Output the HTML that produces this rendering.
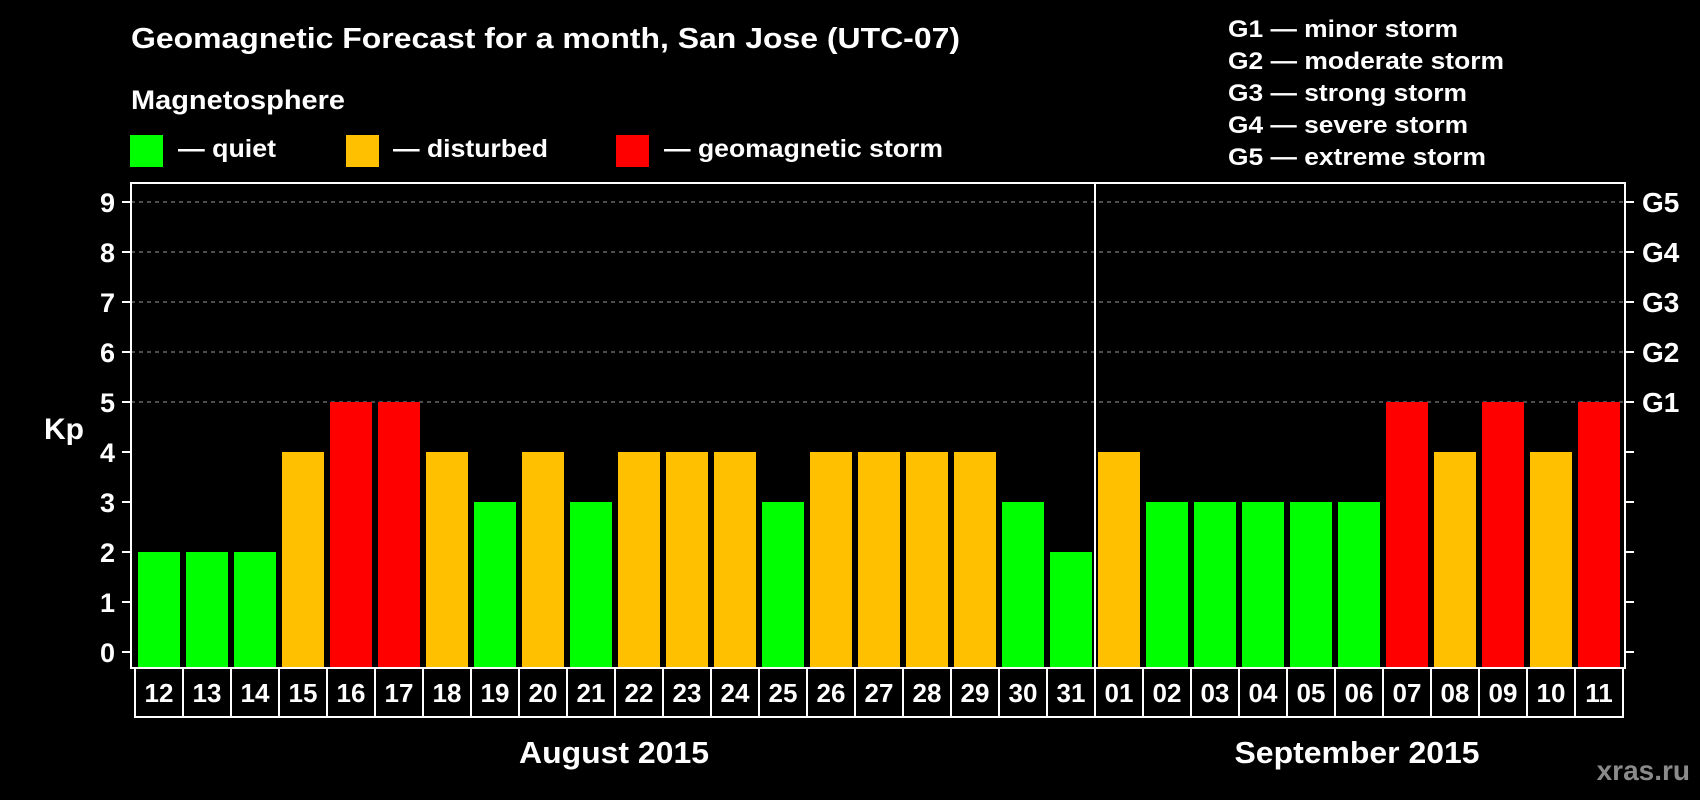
<!DOCTYPE html>
<html><head><meta charset="utf-8"><style>
html,body{margin:0;padding:0;background:#000;}
svg{display:block;font-family:"Liberation Sans",Arial,sans-serif;font-weight:bold;}
</style></head><body>
<svg id="chart" width="1700" height="800" viewBox="0 0 1700 800">
<rect x="0" y="0" width="1700" height="800" fill="#000"/>
<text x="131" y="48" fill="#fff" font-size="29" textLength="829" lengthAdjust="spacingAndGlyphs">Geomagnetic Forecast for a month, San Jose (UTC-07)</text>
<text x="131" y="109" fill="#fff" font-size="27" textLength="214" lengthAdjust="spacingAndGlyphs">Magnetosphere</text>
<rect x="130" y="135" width="33" height="32" fill="#00ff00"/>
<text x="178" y="157" fill="#fff" font-size="25" textLength="98" lengthAdjust="spacingAndGlyphs">— quiet</text>
<rect x="346" y="135" width="33" height="32" fill="#ffc000"/>
<text x="393" y="157" fill="#fff" font-size="25" textLength="155" lengthAdjust="spacingAndGlyphs">— disturbed</text>
<rect x="616" y="135" width="33" height="32" fill="#ff0000"/>
<text x="664" y="157" fill="#fff" font-size="25" textLength="279" lengthAdjust="spacingAndGlyphs">— geomagnetic storm</text>
<g fill="#fff" font-size="24">
<text x="1228" y="37" textLength="230" lengthAdjust="spacingAndGlyphs">G1 — minor storm</text>
<text x="1228" y="69" textLength="276" lengthAdjust="spacingAndGlyphs">G2 — moderate storm</text>
<text x="1228" y="101" textLength="239" lengthAdjust="spacingAndGlyphs">G3 — strong storm</text>
<text x="1228" y="133" textLength="240" lengthAdjust="spacingAndGlyphs">G4 — severe storm</text>
<text x="1228" y="165" textLength="258" lengthAdjust="spacingAndGlyphs">G5 — extreme storm</text>
</g>
<text x="64" y="439" fill="#fff" font-size="30" text-anchor="middle">Kp</text>
<g id="grid"></g><g id="bars"></g><g id="axes"></g><g id="days"></g>
<text x="614" y="763" fill="#fff" font-size="31" text-anchor="middle" textLength="190" lengthAdjust="spacingAndGlyphs">August 2015</text>
<text x="1357" y="763" fill="#fff" font-size="31" text-anchor="middle" textLength="245" lengthAdjust="spacingAndGlyphs">September 2015</text>
<text x="1690" y="780" fill="#8a8a8a" font-size="28" text-anchor="end">xras.ru</text>
</svg>
<script>
const days = ["12","13","14","15","16","17","18","19","20","21","22","23","24","25","26","27","28","29","30","31","01","02","03","04","05","06","07","08","09","10","11"];
const kpValues = [2,2,2,4,5,5,4,3,4,3,4,4,4,3,4,4,4,4,3,2,4,3,3,3,3,3,5,4,5,4,5];
const yTicks = [0,1,2,3,4,5,6,7,8,9];
const gLabels = ["G1","G2","G3","G4","G5"];
const gLevels = [5,6,7,8,9];

const NS = "http://www.w3.org/2000/svg";
const L = 131, R = 1625, T = 183, B = 668;
function y(v){ return 652 - v * 50; }
function slotX(i){ return 135 + i * 48; }
function colorFor(v){ return v >= 5 ? "#ff0000" : (v >= 4 ? "#ffc000" : "#00ff00"); }
function mk(tag, attrs, parent){ const e = document.createElementNS(NS, tag); for (const k in attrs) e.setAttribute(k, attrs[k]); parent.appendChild(e); return e; }

const grid = document.getElementById("grid"), bars = document.getElementById("bars"), axes = document.getElementById("axes"), dg = document.getElementById("days");

gLevels.forEach((lv) => {
  const ln = mk("line", {x1: L, x2: R, y1: y(lv), y2: y(lv), stroke: "#999", "stroke-width": 1, "stroke-dasharray": "4,4"}, grid);
  
  
});

kpValues.forEach((v, i) => {
  const x0 = slotX(i) + 3;
  const r = mk("rect", {x: x0, y: y(v), width: 42, height: B - y(v), fill: colorFor(v)}, bars);
  
  
});

const frame = mk("rect", {x: L, y: T, width: R - L, height: B - T, fill: "none", stroke: "#fff", "stroke-width": 2}, axes);


const sepIdx = days.indexOf("01");
const sep = mk("line", {x1: slotX(sepIdx), x2: slotX(sepIdx), y1: T, y2: B, stroke: "#fff", "stroke-width": 2}, axes);



yTicks.forEach((t) => {
  const tk = mk("line", {x1: 122, x2: L, y1: y(t), y2: y(t), stroke: "#fff", "stroke-width": 2}, axes);
  
  
  const tk2 = mk("line", {x1: R, x2: 1634, y1: y(t), y2: y(t), stroke: "#fff", "stroke-width": 2}, axes);
  
  
  const lb = mk("text", {x: 115, y: y(t) + 10, fill: "#fff", "font-size": 27, "text-anchor": "end"}, axes);
  lb.textContent = t;
  
  
});

gLabels.forEach((g, i) => {
  const lb = mk("text", {x: 1642, y: y(gLevels[i]) + 10, fill: "#fff", "font-size": 28}, axes);
  lb.textContent = g;
  
  
});

days.forEach((d, i) => {
  const bx = mk("rect", {x: slotX(i), y: B, width: 48, height: 49, fill: "#000", stroke: "#fff", "stroke-width": 2}, dg);
  
  
  const t = mk("text", {x: slotX(i) + 24, y: 702, fill: "#fff", "font-size": 26, "text-anchor": "middle"}, dg);
  t.textContent = d;
  
  
});
</script>
</body></html>
